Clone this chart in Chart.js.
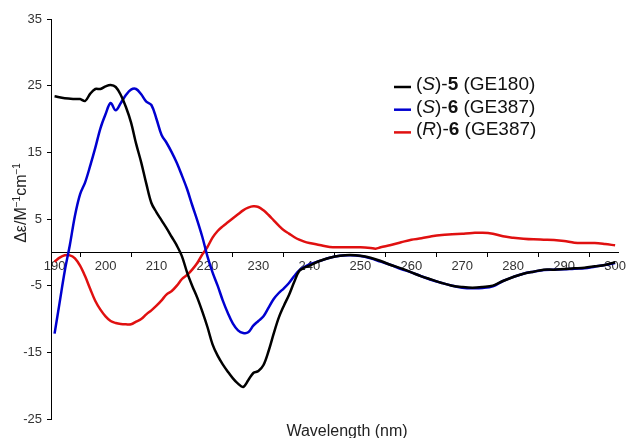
<!DOCTYPE html>
<html>
<head>
<meta charset="utf-8">
<script src="https://cdn.jsdelivr.net/npm/chart.js@4/dist/chart.umd.min.js"></script>
<style>
  html, body { margin: 0; padding: 0; background: #fff; }
  #wrap { width: 628px; height: 438px; }
</style>
</head>
<body>
<div id="wrap"><canvas id="cd"></canvas></div>
<script>
// CD spectra, wavelength (nm) vs delta epsilon
const xTicks = [190, 200, 210, 220, 230, 240, 250, 260, 270, 280, 290, 300];

const wlS5 = [190,192,194,195,196,197,198,199,200,201,202,203,204,205,206,207,208,209,210,211,212,213,214,215,216,217,218,219,220,221,222,223,224,225,226,227,228,229,230,231,232,233,234,235,236,237,238,239,240,242,244,246,248,250,252,254,256,258,260,262,264,266,268,270,272,274,276,278,280,282,284,286,288,290,292,294,296,298,300];
const s5 = [23.4,23.1,23.0,23.0,22.7,23.8,24.5,24.5,24.9,25.1,24.8,23.6,21.8,19.5,16.3,13.5,10.3,7.4,6.0,4.8,3.6,2.3,1.0,-0.6,-3.0,-5.0,-6.8,-8.9,-11.2,-13.8,-15.5,-16.8,-17.9,-18.9,-19.7,-20.2,-19.2,-18.1,-17.8,-16.9,-14.8,-12.2,-9.8,-8.0,-6.4,-4.5,-2.8,-2.3,-2.0,-1.3,-0.8,-0.5,-0.4,-0.5,-0.8,-1.3,-1.9,-2.4,-3.0,-3.6,-4.1,-4.6,-5.0,-5.2,-5.3,-5.2,-5.0,-4.3,-3.7,-3.2,-2.9,-2.6,-2.6,-2.5,-2.4,-2.3,-2.1,-1.9,-1.5];

const wlS6 = [190,191,192,193,194,195,196,197,198,199,200,201,202,203,204,205,206,207,208,209,210,211,212,213,214,215,216,217,218,219,220,221,222,223,224,225,226,227,228,229,230,231,232,233,234,235,236,237,238,239,240,242,244,246,248,250,252,254,256,258,260,262,264,266,268,270,272,274,276,278,280,282,284,286,288,290,292,294,296,298,300];
const s6 = [-12.2,-7.5,-2.8,1.1,5.5,8.7,10.5,13.0,15.7,18.6,20.7,22.4,21.3,22.4,23.6,24.4,24.5,23.7,22.6,22.1,20.0,17.6,16.4,15.0,13.4,11.5,9.5,7.1,4.8,2.3,-0.6,-3.0,-5.0,-7.2,-9.1,-10.7,-11.7,-12.1,-12.0,-11.0,-10.3,-9.6,-8.3,-7.0,-6.1,-5.4,-4.6,-3.6,-2.7,-2.2,-1.8,-1.3,-0.8,-0.5,-0.45,-0.55,-0.9,-1.4,-1.9,-2.5,-3.0,-3.6,-4.15,-4.6,-5.0,-5.3,-5.4,-5.35,-5.1,-4.3,-3.7,-3.2,-2.9,-2.65,-2.6,-2.55,-2.45,-2.4,-2.15,-1.9,-1.6];

const wlR6 = [190,191,192,193,194,195,196,197,198,199,200,201,202,203,204,205,206,207,208,209,210,211,212,213,214,215,216,217,218,219,220,221,222,223,224,225,226,227,228,229,230,231,232,233,234,235,236,237,238,239,240,242,244,246,248,250,252,253,254,256,258,260,262,264,266,268,270,272,274,276,278,280,282,284,286,288,290,292,294,296,298,300];
const r6 = [-1.4,-0.8,-0.45,-0.45,-0.9,-2.0,-3.6,-5.5,-7.3,-8.6,-9.6,-10.3,-10.6,-10.75,-10.8,-10.8,-10.4,-10.0,-9.3,-8.7,-8.0,-7.2,-6.3,-5.8,-5.0,-4.0,-3.4,-2.6,-1.6,-0.3,0.8,2.2,3.2,3.9,4.5,5.1,5.7,6.3,6.7,6.9,6.8,6.3,5.6,4.8,4.0,3.3,2.8,2.3,1.9,1.6,1.4,1.1,0.8,0.75,0.75,0.75,0.65,0.55,0.75,1.1,1.5,1.9,2.1,2.4,2.6,2.7,2.8,2.9,2.95,2.8,2.4,2.2,2.05,1.95,1.9,1.85,1.7,1.45,1.4,1.4,1.25,1.05];

const seriesNames = ['(S)-5 (GE180)', '(S)-6 (GE387)', '(R)-6 (GE387)'];
const seriesColors = ['#000000', '#0000d0', '#e01010'];

const FONT = '"Liberation Sans", Arial, sans-serif';

function pts(xs, ys) {
    return xs.map((x, i) => ({ x: x, y: ys[i] }));
}

// legend with italic / bold parts
const legendRows = [
    [['(', ''], ['S', 'italic'], [')-', ''], ['5', 'bold'], [' (GE180)', '']],
    [['(', ''], ['S', 'italic'], [')-', ''], ['6', 'bold'], [' (GE387)', '']],
    [['(', ''], ['R', 'italic'], [')-', ''], ['6', 'bold'], [' (GE387)', '']]
];

const customText = {
    id: 'customText',
    afterDraw(chart) {
        const ctx = chart.ctx;
        ctx.save();
        ctx.textBaseline = 'alphabetic';
        ctx.fillStyle = '#111';

        // legend
        legendRows.forEach((row, i) => {
            const y = 90 + i * 22.7;
            ctx.strokeStyle = seriesColors[i];
            ctx.lineWidth = 2.5;
            ctx.beginPath();
            ctx.moveTo(394, y - 3);
            ctx.lineTo(411, y - 3);
            ctx.stroke();
            let x = 416;
            row.forEach(([t, st]) => {
                ctx.font = st + ' 19px ' + FONT;
                ctx.fillText(t, x, y);
                x += ctx.measureText(t).width;
            });
        });

        // x title
        ctx.font = '16px ' + FONT;
        ctx.textAlign = 'center';
        ctx.fillStyle = '#222';
        ctx.fillText('Wavelength (nm)', 347, 436);

        // y title, rotated
        const parts = [['\u0394\u03b5/M', 16, 0], ['\u22121', 10, 6], ['cm', 16, 0], ['\u22121', 10, 6]];
        ctx.textAlign = 'left';
        let total = 0;
        parts.forEach(p => { ctx.font = p[1] + 'px ' + FONT; total += ctx.measureText(p[0]).width; });
        ctx.translate(26, 203);
        ctx.rotate(-Math.PI / 2);
        let px = -total / 2;
        parts.forEach(p => {
            ctx.font = p[1] + 'px ' + FONT;
            ctx.fillText(p[0], px, -p[2]);
            px += ctx.measureText(p[0]).width;
        });
        ctx.restore();
    }
};

const ctx = document.getElementById('cd').getContext('2d');
new Chart(ctx, {
    type: 'line',
    data: {
        datasets: [
            { label: seriesNames[0], data: pts(wlS5, s5), borderColor: seriesColors[0] },
            { label: seriesNames[1], data: pts(wlS6, s6), borderColor: seriesColors[1] },
            { label: seriesNames[2], data: pts(wlR6, r6), borderColor: seriesColors[2] }
        ]
    },
    options: {
        responsive: true,
        maintainAspectRatio: false,
        animation: false,
        layout: { padding: { left: 0, right: 8, top: 19, bottom: 19 } },
        elements: {
            point: { radius: 0 },
            line: { borderWidth: 2.5, tension: 0.35, fill: false }
        },
        plugins: {
            legend: { display: false },
            tooltip: { enabled: false }
        },
        scales: {
            x: {
                type: 'linear',
                position: { y: 0 },
                min: 189.3,
                max: 300.6,
                afterBuildTicks: s => { s.ticks = xTicks.map(v => ({ value: v })); },
                border: { display: true, color: '#000', width: 1 },
                grid: { drawOnChartArea: false, drawTicks: true, tickLength: 4, color: '#000', offset: true },
                ticks: {
                    autoSkip: false,
                    maxRotation: 0,
                    padding: 2,
                    color: '#333',
                    font: { family: FONT, size: 13 }
                }
            },
            y: {
                min: -25,
                max: 35,
                afterFit: s => { s.width = 51; },
                border: { display: true, color: '#000', width: 1 },
                grid: { drawOnChartArea: false, drawTicks: true, tickLength: 4, color: '#000' },
                ticks: {
                    stepSize: 10,
                    padding: 5,
                    color: '#333',
                    font: { family: FONT, size: 13 }
                }
            }
        }
    },
    plugins: [customText]
});
</script>
</body>
</html>
